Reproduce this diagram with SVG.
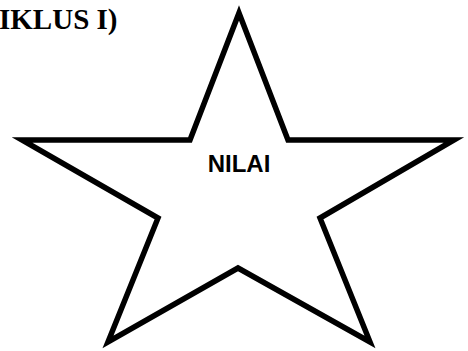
<svg xmlns="http://www.w3.org/2000/svg" width="468" height="351" viewBox="0 0 468 351">
<style>
.star{fill:#fff;stroke:#000;stroke-width:5.5;stroke-linejoin:miter;stroke-miterlimit:12}
.lbl{font-family:"Liberation Sans",Arial,sans-serif;font-weight:bold;font-size:24px;fill:#000}
.title{font-family:"Liberation Serif","Times New Roman",serif;font-weight:bold;font-size:29px;fill:#000}
</style>
<rect width="468" height="351" fill="#fff"/>
<text class="title" x="-1" y="29">IKLUS I)</text>
<g id="star">
<polygon class="star" points="239,13 288,140 454,140 320,218 370,342 238,268 108,342 158,218 22,140 190,140"/>
<text class="lbl" x="239" y="172" text-anchor="middle">NILAI</text>
</g>
</svg>
